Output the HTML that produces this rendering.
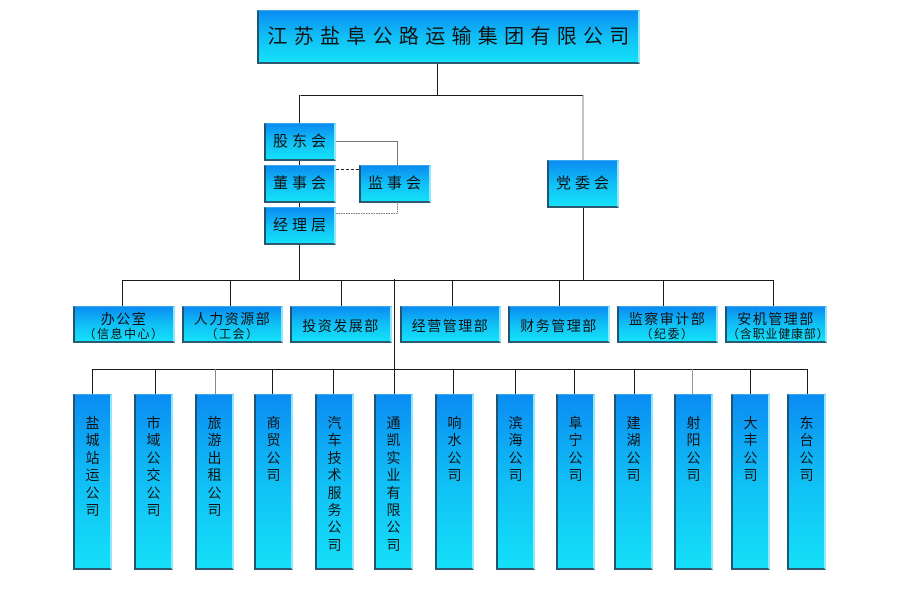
<!DOCTYPE html>
<html>
<head>
<meta charset="utf-8">
<style>
  html,body{margin:0;padding:0;background:#fff;}
  body{width:906px;height:603px;position:relative;overflow:hidden;
       font-family:"Liberation Sans","Noto Sans CJK SC","WenQuanYi Zen Hei",sans-serif;color:#111;}
  svg{position:absolute;left:0;top:0;}
  .b{position:absolute;box-sizing:border-box;
     background:linear-gradient(to bottom,#0a8cf3 0%,#10bff5 50%,#14e0f8 100%);
     border-left:2px solid #24536e;border-bottom:2px solid #2d5a70;
     border-right:2px solid #8fe9fb;border-top:1px solid #3aa8ee;
     text-align:center;}
  .t{font-size:20px;letter-spacing:6.3px;line-height:52px;padding-left:6px;white-space:nowrap;}
  .m{font-size:15px;letter-spacing:4px;line-height:36px;padding-left:3px;}
  .d{font-size:14px;letter-spacing:1.5px;}
  .d1{line-height:37px;padding-top:2px;}
  .d2{line-height:14px;padding-top:5px;}
  .d2 span{font-size:12px;letter-spacing:1.5px;display:block;line-height:16px;}
  .v{font-size:14px;line-height:17.4px;padding-top:20px;}
</style>
</head>
<body>
<svg width="906" height="603" viewBox="0 0 906 603">
  <g stroke="#1a1a1a" stroke-width="1" fill="none">
    <line x1="437.5" y1="64" x2="437.5" y2="95.5"/>
    <line x1="300.5" y1="95.5" x2="583" y2="95.5"/>
    <line x1="299.5" y1="95" x2="299.5" y2="280"/>
    <line x1="583.5" y1="207" x2="583.5" y2="280"/>
    <line x1="122" y1="280.5" x2="774" y2="280.5"/>
    <line x1="122.5" y1="280" x2="122.5" y2="306"/>
    <line x1="230.5" y1="280" x2="230.5" y2="306"/>
    <line x1="341.5" y1="280" x2="341.5" y2="306"/>
    <line x1="452.5" y1="280" x2="452.5" y2="306"/>
    <line x1="559.5" y1="280" x2="559.5" y2="306"/>
    <line x1="663.5" y1="280" x2="663.5" y2="306"/>
    <line x1="773.5" y1="280" x2="773.5" y2="306"/>
    <line x1="394.5" y1="279" x2="394.5" y2="394"/>
    <line x1="92" y1="369.5" x2="808" y2="369.5"/>
    <line x1="92.5" y1="369" x2="92.5" y2="394"/>
    <line x1="155.5" y1="369" x2="155.5" y2="394"/>
    <line x1="215.5" y1="369" x2="215.5" y2="394" stroke="#888"/>
    <line x1="272.5" y1="369" x2="272.5" y2="394"/>
    <line x1="333.5" y1="369" x2="333.5" y2="394"/>
    <line x1="453.5" y1="369" x2="453.5" y2="394"/>
    <line x1="515.5" y1="369" x2="515.5" y2="394"/>
    <line x1="574.5" y1="369" x2="574.5" y2="394"/>
    <line x1="634.5" y1="369" x2="634.5" y2="394"/>
    <line x1="692.5" y1="369" x2="692.5" y2="394" stroke="#999"/>
    <line x1="750.5" y1="369" x2="750.5" y2="394"/>
    <line x1="807.5" y1="369" x2="807.5" y2="394"/>
  </g>
  <line x1="583" y1="95" x2="583" y2="160" stroke="#888" stroke-width="1"/>
  <polyline points="336,141.5 397.5,141.5 397.5,165" fill="none" stroke="#777" stroke-width="1"/>
  <line x1="336" y1="169.5" x2="359" y2="169.5" stroke="#222" stroke-width="1" stroke-dasharray="3,2"/>
  <polyline points="336,213.5 397.5,213.5 397.5,202" fill="none" stroke="#777" stroke-width="1" stroke-dasharray="1.5,1"/>
</svg>

<div class="b t" style="left:257px;top:10px;width:383px;height:54px;">江苏盐阜公路运输集团有限公司</div>

<div class="b m" style="left:264px;top:123px;width:72px;height:38px;">股东会</div>
<div class="b m" style="left:264px;top:165px;width:72px;height:38px;">董事会</div>
<div class="b m" style="left:264px;top:207px;width:72px;height:38px;">经理层</div>
<div class="b m" style="left:359px;top:165px;width:72px;height:38px;">监事会</div>
<div class="b m" style="left:547px;top:160px;width:72px;height:48px;line-height:46px;">党委会</div>

<div class="b d d2" style="left:73px;top:306px;width:102px;height:37px;">办公室<span>（信息中心）</span></div>
<div class="b d d2" style="left:182px;top:306px;width:101px;height:37px;">人力资源部<span>（工会）</span></div>
<div class="b d d1" style="left:290px;top:306px;width:102px;height:37px;line-height:35px;">投资发展部</div>
<div class="b d d1" style="left:400px;top:306px;width:101px;height:37px;line-height:35px;">经营管理部</div>
<div class="b d d1" style="left:508px;top:306px;width:102px;height:37px;line-height:35px;">财务管理部</div>
<div class="b d d2" style="left:617px;top:306px;width:101px;height:37px;">监察审计部<span>（纪委）</span></div>
<div class="b d d2" style="left:725px;top:306px;width:102px;height:37px;">安机管理部<span style="letter-spacing:0.8px;">（含职业健康部）</span></div>

<div class="b v" style="left:73px;top:394px;width:39px;height:176px;">盐<br>城<br>站<br>运<br>公<br>司</div>
<div class="b v" style="left:134px;top:394px;width:39px;height:176px;">市<br>域<br>公<br>交<br>公<br>司</div>
<div class="b v" style="left:195px;top:394px;width:39px;height:176px;">旅<br>游<br>出<br>租<br>公<br>司</div>
<div class="b v" style="left:254px;top:394px;width:39px;height:176px;">商<br>贸<br>公<br>司</div>
<div class="b v" style="left:315px;top:394px;width:39px;height:176px;">汽<br>车<br>技<br>术<br>服<br>务<br>公<br>司</div>
<div class="b v" style="left:374px;top:394px;width:39px;height:176px;">通<br>凯<br>实<br>业<br>有<br>限<br>公<br>司</div>
<div class="b v" style="left:435px;top:394px;width:39px;height:176px;">响<br>水<br>公<br>司</div>
<div class="b v" style="left:496px;top:394px;width:39px;height:176px;">滨<br>海<br>公<br>司</div>
<div class="b v" style="left:556px;top:394px;width:39px;height:176px;">阜<br>宁<br>公<br>司</div>
<div class="b v" style="left:614px;top:394px;width:39px;height:176px;">建<br>湖<br>公<br>司</div>
<div class="b v" style="left:674px;top:394px;width:39px;height:176px;">射<br>阳<br>公<br>司</div>
<div class="b v" style="left:731px;top:394px;width:39px;height:176px;">大<br>丰<br>公<br>司</div>
<div class="b v" style="left:787px;top:394px;width:39px;height:176px;">东<br>台<br>公<br>司</div>
</body>
</html>
